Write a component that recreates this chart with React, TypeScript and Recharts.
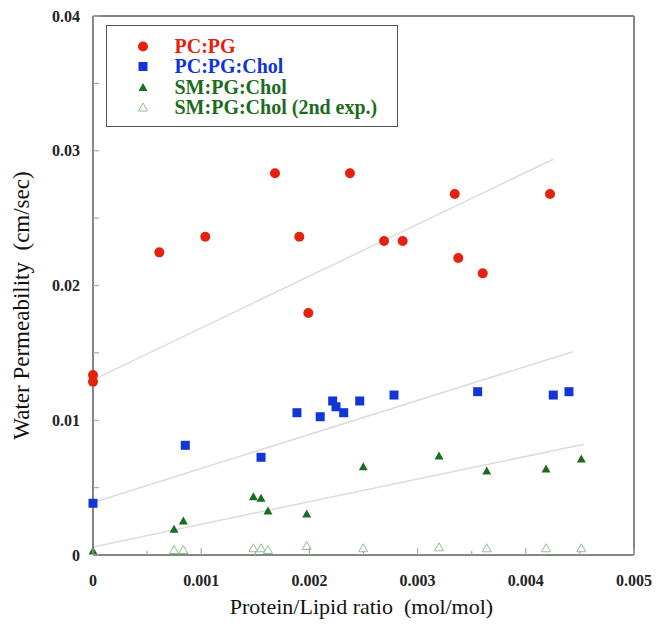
import { ScatterChart, Scatter, XAxis, YAxis, ReferenceLine, Legend, Label } from 'recharts'

const FONT = '"Liberation Serif", "Times New Roman", serif'
const RED = '#e5210f'
const BLUE = '#1235d8'
const GREEN = '#1c6c20'
const PALE_GREEN = '#8fc08f'

const xTicks = [0, 0.0005, 0.001, 0.0015, 0.002, 0.0025, 0.003, 0.0035, 0.004, 0.0045, 0.005]
const yTicks = [0, 0.005, 0.01, 0.015, 0.02, 0.025, 0.03, 0.035, 0.04]

const seriesNames = ['PC:PG', 'PC:PG:Chol', 'SM:PG:Chol', 'SM:PG:Chol (2nd exp.)']
const legendColors = [RED, BLUE, GREEN, GREEN]

const pcpgX = [0, 0, 0.000613, 0.001038, 0.001682, 0.001907, 0.00199, 0.002375, 0.00269, 0.002862, 0.003343, 0.003376, 0.003602, 0.004224]
const pcpgY = [0.01336, 0.01286, 0.02246, 0.02362, 0.02833, 0.02362, 0.01796, 0.02833, 0.0233, 0.0233, 0.02679, 0.02204, 0.0209, 0.02679]

const cholX = [0, 0.000853, 0.001553, 0.001885, 0.0021, 0.002215, 0.002246, 0.002317, 0.002465, 0.002782, 0.003555, 0.004254, 0.004399]
const cholY = [0.00384, 0.00814, 0.00725, 0.01056, 0.01026, 0.01143, 0.011, 0.01056, 0.01143, 0.01187, 0.01212, 0.01187, 0.01212]

const smX = [0, 0.000749, 0.000835, 0.001482, 0.001553, 0.001617, 0.001975, 0.002498, 0.003198, 0.003639, 0.004187, 0.004513]
const smY = [0.0003, 0.00191, 0.00252, 0.00433, 0.00421, 0.00327, 0.00304, 0.00655, 0.00735, 0.00623, 0.00638, 0.00712]

const sm2X = [0.000749, 0.000835, 0.001482, 0.001553, 0.001617, 0.001975, 0.002498, 0.003198, 0.003639, 0.004187, 0.004513]
const sm2Y = [0.00037, 0.00037, 0.0005, 0.0005, 0.00037, 0.00067, 0.0005, 0.00057, 0.0005, 0.0005, 0.0005]

// linear fits drawn in light grey: intercept at x=0 and end point
const fitIntercept = [0.013, 0.0039, 0.0006]
const fitEndX = [0.004254, 0.004434, 0.004538]
const fitEndY = [0.02937, 0.01509, 0.00822]

const toPoints = (xs: number[], ys: number[]) => xs.map((x, i) => ({ x, y: ys[i] }))

const fmtX = (v: number) => (v === 0 ? '0' : v.toFixed(3))
const fmtY = (v: number) => (v === 0 ? '0' : v.toFixed(2))
const isMajorX = (v: number) => Math.round(v * 10000) % 10 === 0
const isMajorY = (v: number) => Math.round(v * 1000) % 10 === 0

const TICK = '#a8a8a8'
const FRAME = '#858585'

const Marker = ({ kind, cx, cy }: { kind: number; cx: number; cy: number }) => {
  if (kind === 0) return <circle cx={cx} cy={cy} r={5} fill={RED} />
  if (kind === 1) return <rect x={cx - 4.5} y={cy - 4.5} width={9} height={9} fill={BLUE} />
  const d = `M${cx},${cy - 4.5} L${cx + 4.5},${cy + 3.5} L${cx - 4.5},${cy + 3.5} Z`
  if (kind === 2) return <path d={d} fill={GREEN} />
  return <path d={d} fill="#fff" stroke={PALE_GREEN} strokeWidth={1} />
}

const BottomTick = ({ x, y, payload }: any) => {
  const major = isMajorX(payload.value)
  return (
    <g>
      <line x1={x} y1={y} x2={x} y2={y - (major ? 7 : 4)} stroke={TICK} strokeWidth={1.2} />
      {major && (
        <text x={x} y={y + 31} textAnchor="middle" fontFamily={FONT} fontWeight="bold" fontSize={16} fill="#222">
          {fmtX(payload.value)}
        </text>
      )}
    </g>
  )
}

const TopTick = ({ x, y, payload }: any) => {
  const major = isMajorX(payload.value)
  return <line x1={x} y1={y} x2={x} y2={y + (major ? 7 : 4)} stroke={TICK} strokeWidth={1.2} />
}

const LeftTick = ({ x, y, payload }: any) => (
  <g>
    <line x1={x} y1={y} x2={x + 6} y2={y} stroke={TICK} strokeWidth={1.2} />
    {isMajorY(payload.value) && (
      <text x={x - 13} y={y + 5.5} textAnchor="end" fontFamily={FONT} fontWeight="bold" fontSize={16} fill="#222">
        {fmtY(payload.value)}
      </text>
    )}
  </g>
)

const RightTick = ({ x, y }: any) => <line x1={x} y1={y} x2={x - 6} y2={y} stroke={TICK} strokeWidth={1.2} />

const LegendBox = ({ payload }: any) => (
  <div
    style={{
      width: 292,
      height: 102,
      boxSizing: 'border-box',
      border: '1.5px solid #505050',
      background: '#fff',
      paddingTop: 10,
    }}
  >
    {(payload || []).map((entry: any, i: number) => (
      <div key={i} style={{ height: 20.3, display: 'flex', alignItems: 'center' }}>
        <svg width={12} height={12} style={{ marginLeft: 29.5, flex: 'none' }}>
          <Marker kind={i} cx={6} cy={6.5} />
        </svg>
        <span
          style={{
            marginLeft: 26,
            fontFamily: FONT,
            fontWeight: 'bold',
            fontSize: 20,
            lineHeight: 1,
            color: legendColors[i],
            whiteSpace: 'nowrap',
          }}
        >
          {entry.value}
        </span>
      </div>
    ))}
  </div>
)

export default function App() {
  const sets = [toPoints(pcpgX, pcpgY), toPoints(cholX, cholY), toPoints(smX, smY), toPoints(sm2X, sm2Y)]

  return (
    <div style={{ position: 'absolute', left: 0, top: 0, background: '#fff' }}>
      <ScatterChart width={664} height={633} margin={{ top: 15, right: 29, bottom: 0, left: 0 }}>
        <XAxis
          xAxisId="b"
          type="number"
          dataKey="x"
          domain={[0, 0.005]}
          ticks={xTicks}
          interval={0}
          height={78}
          tickSize={0}
          tickMargin={0}
          tick={<BottomTick />}
          axisLine={{ stroke: FRAME, strokeWidth: 2 }}
        >
          <Label
            content={(p: any) => {
              const vb = p.viewBox || { x: 93, y: 555, width: 541 }
              return (
                <text x={vb.x + vb.width / 2 - 2} y={vb.y + 59} textAnchor="middle" fontFamily={FONT} fontSize={22} fill="#111">
                  {'Protein/Lipid ratio\u00a0\u00a0(mol/mol)'}
                </text>
              )
            }}
          />
        </XAxis>
        <XAxis
          xAxisId="t"
          orientation="top"
          type="number"
          domain={[0, 0.005]}
          ticks={xTicks}
          interval={0}
          height={1}
          tickSize={0}
          tickMargin={0}
          tick={<TopTick />}
          axisLine={{ stroke: FRAME, strokeWidth: 2 }}
        />
        <YAxis
          yAxisId="l"
          type="number"
          dataKey="y"
          domain={[0, 0.04]}
          ticks={yTicks}
          interval={0}
          width={93}
          tickSize={0}
          tickMargin={0}
          tick={<LeftTick />}
          axisLine={{ stroke: FRAME, strokeWidth: 2 }}
        >
          <Label
            content={(p: any) => {
              const vb = p.viewBox || { x: 0, y: 16, height: 539 }
              const cx = vb.x + 29
              const cy = vb.y + vb.height / 2 + 20
              return (
                <text
                  x={cx}
                  y={cy}
                  transform={`rotate(-90 ${cx} ${cy})`}
                  textAnchor="middle"
                  fontFamily={FONT}
                  fontSize={23}
                  fill="#111"
                >
                  {'Water Permeability\u00a0\u00a0(cm/sec)'}
                </text>
              )
            }}
          />
        </YAxis>
        <YAxis
          yAxisId="r"
          orientation="right"
          type="number"
          domain={[0, 0.04]}
          ticks={yTicks}
          interval={0}
          width={1}
          tickSize={0}
          tickMargin={0}
          tick={<RightTick />}
          axisLine={{ stroke: FRAME, strokeWidth: 2 }}
        />

        {fitIntercept.map((b, i) => (
          <ReferenceLine
            key={'fit' + i}
            xAxisId="b"
            yAxisId="l"
            segment={[
              { x: 0, y: b },
              { x: fitEndX[i], y: fitEndY[i] },
            ]}
            stroke="#dcdcdc"
            strokeWidth={1.5}
            ifOverflow="visible"
          />
        ))}

        {sets.map((data, i) => (
          <Scatter
            key={seriesNames[i]}
            name={seriesNames[i]}
            data={data}
            xAxisId="b"
            yAxisId="l"
            fill={legendColors[i]}
            isAnimationActive={false}
            shape={(p: any) => <Marker kind={i} cx={p.cx} cy={p.cy} />}
          />
        ))}

        <Legend
          layout="vertical"
          align="center"
          verticalAlign="middle"
          wrapperStyle={{ left: 106, top: 25, width: 292, height: 102 }}
          content={<LegendBox />}
        />
      </ScatterChart>
    </div>
  )
}
